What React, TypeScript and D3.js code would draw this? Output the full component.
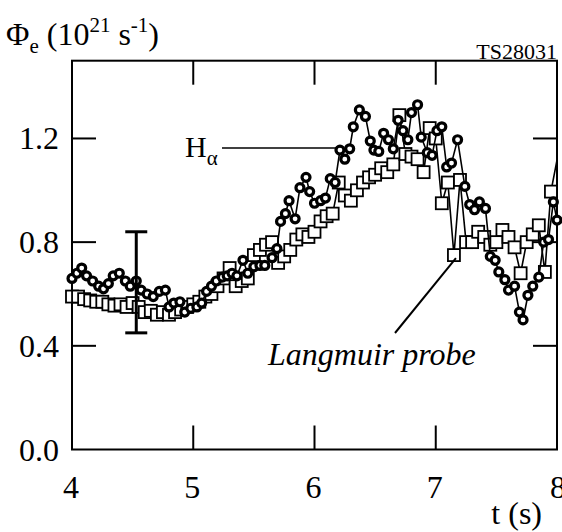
import React from "react";
import * as d3 from "d3";

const xTicks = [4, 5, 6, 7, 8];
const yTicks = [0.0, 0.4, 0.8, 1.2];
const yTickLabels = ["0.0", "0.4", "0.8", "1.2"];

// H-alpha (circles)
const halphaT = [
  4.0, 4.04, 4.08, 4.12, 4.17, 4.22, 4.26, 4.3, 4.34, 4.39, 4.44, 4.48, 4.53, 4.57, 4.62, 4.67, 4.72, 4.77,
  4.8, 4.84, 4.89, 4.93, 4.98, 5.03, 5.07, 5.11, 5.15, 5.19, 5.24, 5.28, 5.32, 5.36, 5.41, 5.45, 5.5, 5.55,
  5.59, 5.65, 5.69, 5.72, 5.76, 5.79, 5.84, 5.88, 5.93, 5.96, 6.0, 6.05, 6.09, 6.13, 6.17, 6.21, 6.25, 6.29,
  6.32, 6.37, 6.42, 6.46, 6.49, 6.53, 6.57, 6.61, 6.65, 6.69, 6.73, 6.77, 6.8, 6.85, 6.88, 6.93, 6.97, 7.01,
  7.05, 7.09, 7.13, 7.18, 7.24, 7.28, 7.32, 7.36, 7.41, 7.45, 7.49, 7.52, 7.57, 7.6, 7.65, 7.69, 7.72, 7.76,
  7.8, 7.85, 7.89, 7.93, 7.97, 8.0,
];
const halphaV = [
  0.66, 0.68, 0.7, 0.67, 0.65, 0.63, 0.62, 0.64, 0.67, 0.68, 0.65, 0.63, 0.65, 0.615, 0.6, 0.59, 0.61, 0.615,
  0.55, 0.565, 0.57, 0.53, 0.545, 0.55, 0.565, 0.61, 0.63, 0.65, 0.665, 0.67, 0.68, 0.67, 0.73, 0.68, 0.705, 0.71,
  0.71, 0.74, 0.775, 0.88, 0.91, 0.96, 0.89, 1.01, 1.05, 0.995, 0.95, 0.96, 0.97, 1.045, 1.03, 1.155, 1.12, 1.16,
  1.245, 1.31, 1.285, 1.19, 1.155, 1.15, 1.22, 1.195, 1.16, 1.27, 1.23, 1.195, 1.3, 1.33, 1.205, 1.145, 1.135, 1.23,
  1.245, 1.09, 1.105, 1.195, 1.015, 0.945, 0.925, 0.955, 0.93, 0.745, 0.73, 0.685, 0.655, 0.615, 0.63, 0.53, 0.5, 0.595,
  0.63, 0.665, 0.8, 0.81, 0.955, 0.885,
];

// Langmuir probe (squares)
const probeT = [
  4.0, 4.05, 4.1, 4.15, 4.2, 4.25, 4.3, 4.35, 4.4, 4.45, 4.5, 4.55, 4.6, 4.65, 4.7, 4.75, 4.8, 4.85, 4.9, 4.95,
  5.0, 5.05, 5.1, 5.15, 5.2, 5.25, 5.3, 5.35, 5.4, 5.45, 5.5, 5.55, 5.6, 5.65, 5.7, 5.75, 5.8, 5.85, 5.9, 5.95,
  6.0, 6.05, 6.1, 6.15, 6.2, 6.25, 6.3, 6.35, 6.4, 6.45, 6.5, 6.55, 6.6, 6.65, 6.7, 6.75, 6.8, 6.85, 6.9, 6.95,
  7.0, 7.05, 7.1, 7.15, 7.2, 7.25, 7.3, 7.35, 7.4, 7.45, 7.5, 7.55, 7.6, 7.65, 7.7, 7.75, 7.8, 7.85, 7.9, 7.95,
  8.03,
];
const probeV = [
  0.59, 0.59, 0.58, 0.575, 0.57, 0.57, 0.56, 0.555, 0.56, 0.55, 0.565, 0.55, 0.53, 0.535, 0.52, 0.53, 0.52, 0.53, 0.54, 0.55,
  0.56, 0.57, 0.59, 0.6, 0.63, 0.66, 0.7, 0.63, 0.65, 0.66, 0.75, 0.77, 0.79, 0.8, 0.72, 0.745, 0.77, 0.81, 0.83, 0.82,
  0.84, 0.88, 0.9, 0.91, 1.03, 0.98, 0.96, 1.0, 1.03, 1.05, 1.06, 1.085, 1.07, 1.1, 1.29, 1.14, 1.13, 1.12, 1.07, 1.24,
  1.2, 0.95, 1.03, 0.75, 1.04, 0.8, 0.8, 0.84, 0.82, 0.79, 0.8, 0.847, 0.82, 0.78, 0.68, 0.8, 0.83, 0.865, 0.685, 0.995,
  1.19,
];

const errT = 4.53;
const errLo = 0.45;
const errHi = 0.84;

const FONT = "'Liberation Serif', 'Times New Roman', 'DejaVu Serif', 'Noto Serif', Times, serif";
const ts = { fontFamily: FONT } as React.CSSProperties;

export default function App() {
  const W = 562;
  const H = 532;
  const left = 72, right = 557, top = 60.7, bottom = 449.5;
  const x = d3.scaleLinear().domain([4, 8]).range([left, right]);
  const y = d3.scaleLinear().domain([0, 1.5]).range([bottom, top]);

  const halpha = halphaT.map((t, i) => [t, halphaV[i]] as [number, number]);
  const probe = probeT.map((t, i) => [t, probeV[i]] as [number, number]);
  const line = d3.line<[number, number]>().x((d) => x(d[0])).y((d) => y(d[1]));
  const tick = 24;
  const sq = 12;

  return (
    <svg width={W} height={H} style={{ position: "absolute", left: 0, top: 0, background: "#fff", fontFamily: FONT }}>
      <defs>
        <clipPath id="plotclip">
          <rect x={left} y={top} width={right - left} height={bottom - top} />
        </clipPath>
      </defs>
      {/* frame */}
      <rect x={left} y={top} width={right - left} height={bottom - top} fill="none" stroke="#000" strokeWidth={2} />
      {/* x ticks */}
      {xTicks.map((t) => (
        <g key={"xt" + t}>
          {t > 4 && t < 8 && (
            <>
              <line x1={x(t)} x2={x(t)} y1={bottom} y2={bottom - tick} stroke="#000" strokeWidth={2} />
              <line x1={x(t)} x2={x(t)} y1={top} y2={top + tick} stroke="#000" strokeWidth={2} />
            </>
          )}
          <text style={ts} x={t === 8 ? x(t) + 1 : x(t) - 1} y={498} fontSize={32} textAnchor="middle">{t}</text>
        </g>
      ))}
      {/* y ticks */}
      {yTicks.map((v, i) => (
        <g key={"yt" + v}>
          {v > 0 && (
            <>
              <line x1={left} x2={left + tick} y1={y(v)} y2={y(v)} stroke="#000" strokeWidth={2} />
              <line x1={right} x2={right - tick} y1={y(v)} y2={y(v)} stroke="#000" strokeWidth={2} />
            </>
          )}
          <text style={ts} x={59} y={y(v) + 11} fontSize={32} textAnchor="end">{yTickLabels[i]}</text>
        </g>
      ))}
      {/* axis titles */}
      <text style={ts} x={6} y={45} fontSize={32}>
        Φ<tspan fontSize={21} dy={8}>e</tspan>
        <tspan dy={-8}> (10</tspan>
        <tspan fontSize={21} dy={-13}>21</tspan>
        <tspan dy={13}> s</tspan>
        <tspan fontSize={21} dy={-13}>-1</tspan>
        <tspan dy={13}>)</tspan>
      </text>
      <text style={ts} x={557} y={59} fontSize={22} textAnchor="end">TS28031</text>
      <text style={ts} x={542} y={524} fontSize={32} textAnchor="end">t (s)</text>

      {/* Langmuir probe series */}
      <g clipPath="url(#plotclip)">
        <path d={line(probe) || ""} fill="none" stroke="#000" strokeWidth={1.6} />
      </g>
      {probe.filter((d) => d[0] <= 8).map((d, i) => (
        <rect key={"p" + i} x={x(d[0]) - sq / 2} y={y(d[1]) - sq / 2} width={sq} height={sq} fill="#fff" stroke="#000" strokeWidth={1.8} />
      ))}

      {/* H-alpha series */}
      <path d={line(halpha) || ""} fill="none" stroke="#000" strokeWidth={1.6} />
      {halpha.map((d, i) => (
        <circle key={"h" + i} cx={x(d[0])} cy={y(d[1])} r={4} fill="#fff" stroke="#000" strokeWidth={3.2} />
      ))}

      {/* error bar */}
      <g stroke="#000" strokeWidth={3}>
        <line x1={x(errT)} x2={x(errT)} y1={y(errLo)} y2={y(errHi)} />
        <line x1={x(errT) - 11} x2={x(errT) + 11} y1={y(errLo)} y2={y(errLo)} />
        <line x1={x(errT) - 11} x2={x(errT) + 11} y1={y(errHi)} y2={y(errHi)} />
      </g>

      {/* annotations */}
      <text style={ts} x={185} y={157} fontSize={30}>
        H<tspan fontSize={21} dy={8}>α</tspan>
      </text>
      <line x1={222} x2={338} y1={148} y2={148} stroke="#000" strokeWidth={1.5} />
      <line x1={x(7.15) + 2} y1={y(0.75) + 3} x2={395} y2={333} stroke="#000" strokeWidth={2} />
      <text style={{ ...ts, fontStyle: "italic" }} x={268} y={365} fontSize={32}>Langmuir probe</text>
    </svg>
  );
}
